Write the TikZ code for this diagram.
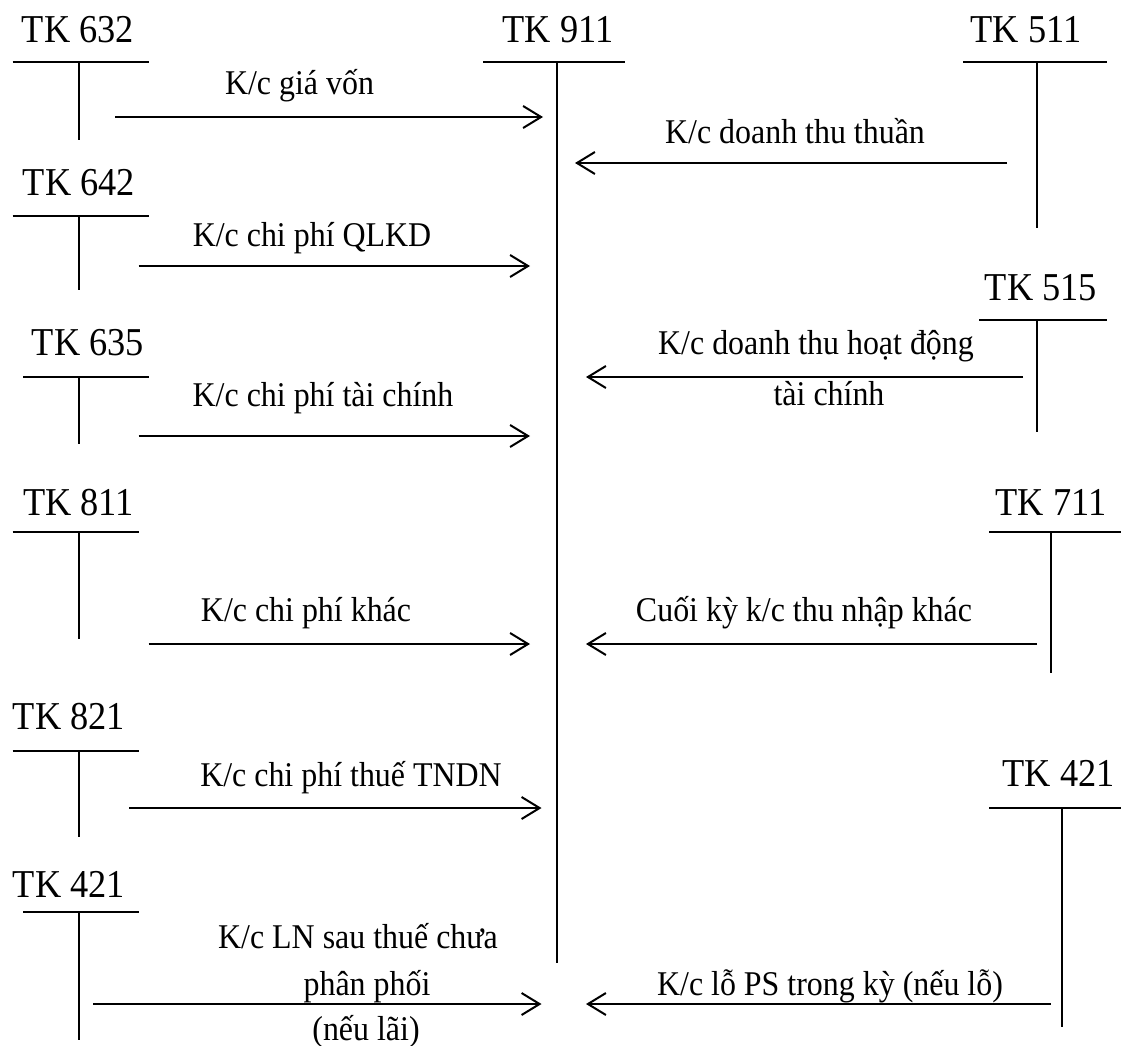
\documentclass[tikz,border=0pt]{standalone}
\usepackage{fontspec}
\setmainfont{Liberation Serif}[FakeStretch=0.92]
\usetikzlibrary{arrows.meta}
\newcommand{\tkfnt}{\fontsize{39.5}{44}\selectfont}
\newcommand{\lblfnt}{\fontsize{34.7}{40}\selectfont}
\tikzset{
  tline/.style={line width=2pt},
  arr/.style={line width=2pt, -{Straight Barb[length=18pt,width=22pt,line width=2pt]}},
  tk/.style={font=\tkfnt, anchor=base, inner sep=0pt},
  lbl/.style={font=\lblfnt, anchor=base, inner sep=0pt}
}
\begin{document}
\begin{tikzpicture}[x=1pt,y=-1pt]
\useasboundingbox (0,0) rectangle (1121,1046);
\fill[white] (0,0) rectangle (1121,1046);

% ---- TK 911 (centre)
\node[tk] (t911) at (558,43) {TK 911};
\draw[tline] (483,62) -- (625,62);
\coordinate (v911a) at (557,62);
\coordinate (v911b) at (557,963);
\draw[tline] (v911a) -- (v911b);

% ---- TK 632
\node[tk] (t632) at (78,43) {TK 632};
\draw[tline] (12.6,62) -- (148.5,62);
\draw[tline] (79,62) -- (79,140);
\coordinate (a1s) at (115,117);
\coordinate (a1e) at (543,117);
\draw[arr] (a1s) -- (a1e);
\node[lbl] (l1) at (299.5,95) {K/c giá vốn};

% ---- TK 511
\node[tk] (t511) at (1026,43) {TK 511};
\draw[tline] (963,62) -- (1107,62);
\draw[tline] (1037,62) -- (1037,228);
\coordinate (a2s) at (1007,163);
\coordinate (a2e) at (575,163);
\draw[arr] (a2s) -- (a2e);
\node[lbl] (l2) at (795,143) {K/c doanh thu thuần};

% ---- TK 642
\node[tk] (t642) at (79,195) {TK 642};
\draw[tline] (12.6,216) -- (148.5,216);
\draw[tline] (79,216) -- (79,290);
\coordinate (a3s) at (138.5,266);
\coordinate (a3e) at (530,266);
\draw[arr] (a3s) -- (a3e);
\node[lbl] (l3) at (312,246) {K/c chi phí QLKD};

% ---- TK 515
\node[tk] (t515) at (1041,300) {TK 515};
\draw[tline] (979,320) -- (1107,320);
\draw[tline] (1037,320) -- (1037,432);
\coordinate (a4s) at (1023,377);
\coordinate (a4e) at (586,377);
\draw[arr] (a4s) -- (a4e);
\node[lbl] (l4a) at (816,354) {K/c doanh thu hoạt động};
\node[lbl] (l4b) at (829,405) {tài chính};

% ---- TK 635
\node[tk] (t635) at (88,355) {TK 635};
\draw[tline] (23,377) -- (148.5,377);
\draw[tline] (79,377) -- (79,444);
\coordinate (a5s) at (138.5,436);
\coordinate (a5e) at (530,436);
\draw[arr] (a5s) -- (a5e);
\node[lbl] (l5) at (323,406) {K/c chi phí tài chính};

% ---- TK 811
\node[tk] (t811) at (78.5,515) {TK 811};
\draw[tline] (12.6,532) -- (138.5,532);
\draw[tline] (79,532) -- (79,639);
\coordinate (a6s) at (148.5,644);
\coordinate (a6e) at (530,644);
\draw[arr] (a6s) -- (a6e);
\node[lbl] (l6) at (306,621) {K/c chi phí khác};

% ---- TK 711
\node[tk] (t711) at (1051,515) {TK 711};
\draw[tline] (989,532) -- (1121,532);
\draw[tline] (1050.5,532) -- (1050.5,673);
\coordinate (a7s) at (1037,644);
\coordinate (a7e) at (586,644);
\draw[arr] (a7s) -- (a7e);
\node[lbl] (l7) at (804,621) {Cuối kỳ k/c thu nhập khác};

% ---- TK 821
\node[tk] (t821) at (69,729) {TK 821};
\draw[tline] (12.6,751) -- (138.5,751);
\draw[tline] (79,751) -- (79,837);
\coordinate (a8s) at (129,808);
\coordinate (a8e) at (541.5,808);
\draw[arr] (a8s) -- (a8e);
\node[lbl] (l8) at (351,786) {K/c chi phí thuế TNDN};

% ---- TK 421 (left)
\node[tk] (t421l) at (69,897) {TK 421};
\draw[tline] (23,912) -- (138.5,912);
\draw[tline] (79,912) -- (79,1040);
\coordinate (a9s) at (93,1004);
\coordinate (a9e) at (541.5,1004);
\draw[arr] (a9s) -- (a9e);
\node[lbl] (l9a) at (358,948) {K/c LN sau thuế chưa};
\node[lbl] (l9b) at (367,995) {phân phối};
\node[lbl] (l9c) at (366,1040) {(nếu lãi)};

% ---- TK 421 (right)
\node[tk] (t421r) at (1058.6,786) {TK 421};
\draw[tline] (989,808) -- (1121,808);
\draw[tline] (1062,808) -- (1062,1027);
\coordinate (a10s) at (1050.5,1004);
\coordinate (a10e) at (586,1004);
\draw[arr] (a10s) -- (a10e);
\node[lbl] (l10) at (830,995) {K/c lỗ PS trong kỳ (nếu lỗ)};
\end{tikzpicture}
\end{document}
